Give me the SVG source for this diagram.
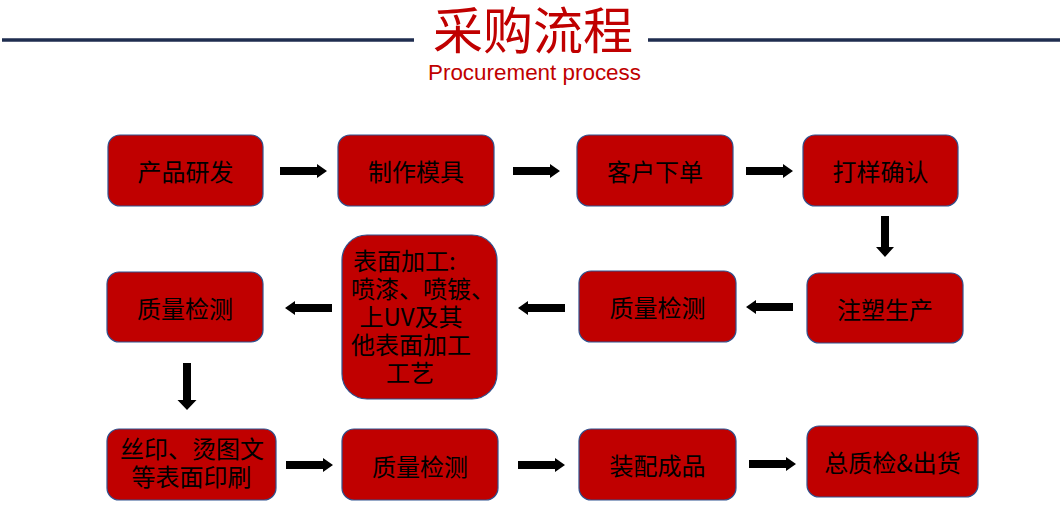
<svg xmlns="http://www.w3.org/2000/svg" xmlns:xlink="http://www.w3.org/1999/xlink" width="1064" height="508" viewBox="0 0 1064 508">
<style>
.box{fill:#C00000;stroke:#2F528F;stroke-width:1.2}
.lbl{font-family:"Noto Sans CJK SC","Liberation Sans",sans-serif;font-size:24px;fill:#000;text-anchor:middle;dominant-baseline:central}
.ml{font-family:"Noto Sans CJK SC","Liberation Sans",sans-serif;font-size:24px;fill:#000}
.arr{fill:#000}
.rule{stroke:#1F2D4F;stroke-width:3.5}
</style>
<defs>
<path id="ah" d="M0,-4 H37 V-7 L47,0 L37,7 V4 H0 Z"/>
</defs>
<rect width="1064" height="508" fill="#fff"/>
<g id="title">
<line class="rule" x1="2" y1="40" x2="414" y2="40"/>
<line class="rule" x1="648" y1="40" x2="1060" y2="40"/>
<text x="533" y="49" text-anchor="middle" font-family="Noto Sans CJK SC,sans-serif" font-size="50" fill="#C00000">采购流程</text>
<text x="534.5" y="80" text-anchor="middle" font-family="Liberation Sans,sans-serif" font-size="22" fill="#C00000" textLength="213" lengthAdjust="spacingAndGlyphs">Procurement process</text>
</g>
<g id="connectors" class="arr">
<use xlink:href="#ah" href="#ah" transform="translate(280,171)"/>
<use xlink:href="#ah" href="#ah" transform="translate(513,171)"/>
<use xlink:href="#ah" href="#ah" transform="translate(746,171)"/>
<path d="M881,216 V247 H876 L885,257 L894,247 H889 V216 Z"/>
<use xlink:href="#ah" href="#ah" transform="translate(793,307) rotate(180)"/>
<use xlink:href="#ah" href="#ah" transform="translate(565,308) rotate(180)"/>
<use xlink:href="#ah" href="#ah" transform="translate(332,308) rotate(180)"/>
<path d="M183,363 V400 H177.5 L187,410 L196.5,400 H191 V363 Z"/>
<use xlink:href="#ah" href="#ah" transform="translate(286,465)"/>
<use xlink:href="#ah" href="#ah" transform="translate(518,465)"/>
<use xlink:href="#ah" href="#ah" transform="translate(749,464)"/>
</g>
<g id="n1"><rect class="box" x="108" y="135" width="155" height="71" rx="12"/><text class="lbl" x="185.5" y="170.5">产品研发</text></g>
<g id="n2"><rect class="box" x="338" y="135" width="156" height="71" rx="12"/><text class="lbl" x="416" y="170.5">制作模具</text></g>
<g id="n3"><rect class="box" x="577" y="135" width="156" height="71" rx="12"/><text class="lbl" x="655" y="170.5">客户下单</text></g>
<g id="n4"><rect class="box" x="803" y="135" width="155" height="71" rx="12"/><text class="lbl" x="880.5" y="170.5">打样确认</text></g>
<g id="n5"><rect class="box" x="807" y="273" width="156" height="70" rx="12"/><text class="lbl" x="885" y="308">注塑生产</text></g>
<g id="n6"><rect class="box" x="579" y="271" width="157" height="71" rx="12"/><text class="lbl" x="657.5" y="306.5">质量检测</text></g>
<g id="n7"><rect class="box" x="342" y="235" width="155" height="164" rx="25"/>
<text class="ml"><tspan x="353" y="270">表面加工:</tspan><tspan x="351" y="298">喷漆、喷镀、</tspan><tspan x="411" y="326" text-anchor="middle">上UV及其</tspan><tspan x="411" y="354" text-anchor="middle">他表面加工</tspan><tspan x="410" y="382" text-anchor="middle">工艺</tspan></text>
</g>
<g id="n8"><rect class="box" x="107" y="272" width="156" height="70" rx="12"/><text class="lbl" x="185" y="307">质量检测</text></g>
<g id="n9"><rect class="box" x="107" y="429" width="169" height="71" rx="12"/>
<text class="ml" text-anchor="middle"><tspan x="192" y="458">丝印、烫图文</tspan><tspan x="191.5" y="486">等表面印刷</tspan></text>
</g>
<g id="n10"><rect class="box" x="342" y="429" width="156" height="71" rx="12"/><text class="lbl" x="420" y="465">质量检测</text></g>
<g id="n11"><rect class="box" x="579" y="429" width="157" height="71" rx="12"/><text class="lbl" x="657.5" y="464.5">装配成品</text></g>
<g id="n12"><rect class="box" x="807" y="426" width="171" height="71" rx="12"/><text class="lbl" x="892.5" y="461.5">总质检&amp;出货</text></g>
</svg>
